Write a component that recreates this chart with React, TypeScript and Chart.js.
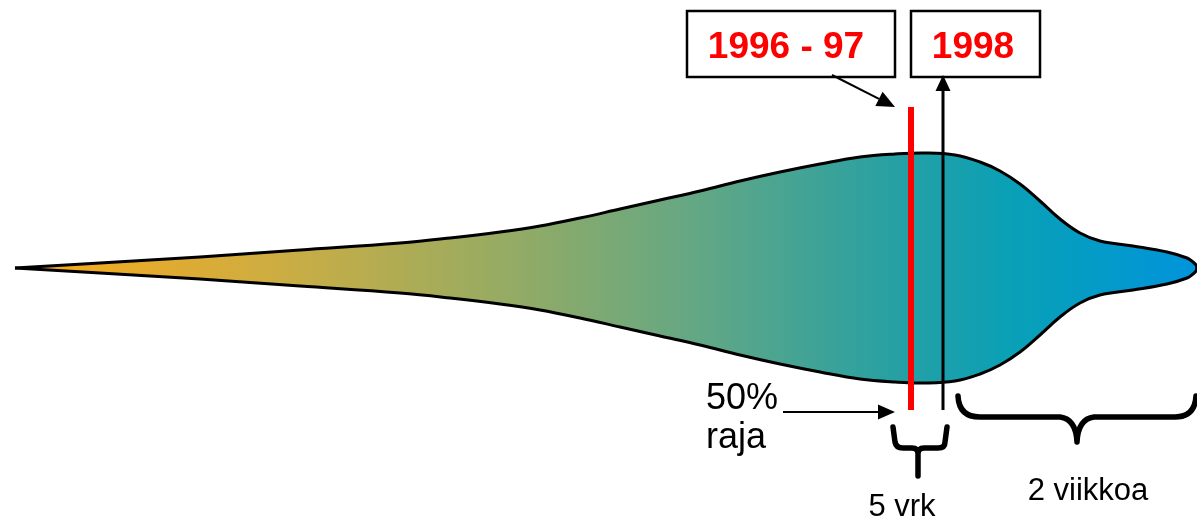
import React, { useEffect, useRef } from "react";
import { Chart, registerables } from "chart.js";

Chart.register(...registerables);

// Profile of the distribution (x position along time axis, half width of the shape)
const profileX = [15, 100, 200, 300, 400, 450, 500, 540, 580, 620, 660, 700, 740, 780, 820, 860, 895, 925, 955, 980, 1000, 1020, 1040, 1060, 1080, 1100, 1133, 1167, 1187, 1193, 1196, 1197];
const halfWidth = [0, 5, 11, 18, 25, 30, 36, 42, 50, 59, 68, 77, 87, 96, 104, 111, 114, 115, 113, 106, 97, 84, 67, 49, 35, 27, 22, 16, 10, 6, 3, 0];

// Markers
const yearLabels = ["1996 - 97", "1998"];
const markerX = [911, 943];
const limitLabel = ["50%", "raja"];
const spanLabels = ["5 vrk", "2 viikkoa"];

const FONT = "'Liberation Sans', Arial, sans-serif";

const annotations = {
  id: "annotations",
  afterDatasetsDraw(chart: any) {
    const c: CanvasRenderingContext2D = chart.ctx;
    const xs = chart.scales.x;
    const ys = chart.scales.y;
    const X = (v: number) => xs.getPixelForValue(v);
    const Y = (v: number) => ys.getPixelForValue(v);

    c.save();

    // Boxes
    c.strokeStyle = "#000";
    c.lineWidth = 2.5;
    c.strokeRect(X(687), Y(257), X(895) - X(687), Y(191) - Y(257));
    c.strokeRect(X(911), Y(257), X(1040) - X(911), Y(191) - Y(257));

    c.fillStyle = "#ff0000";
    c.font = `bold 37px ${FONT}`;
    c.textAlign = "center";
    c.textBaseline = "alphabetic";
    c.fillText(yearLabels[0], X(786), Y(210));
    c.fillText(yearLabels[1], X(973), Y(210));

    // Red 50% line
    c.strokeStyle = "#ff0000";
    c.lineWidth = 6;
    c.beginPath();
    c.moveTo(X(markerX[0]), Y(161));
    c.lineTo(X(markerX[0]), Y(-142));
    c.stroke();

    // Black 1998 line with arrow head
    c.strokeStyle = "#000";
    c.fillStyle = "#000";
    c.lineWidth = 3;
    c.beginPath();
    c.moveTo(X(markerX[1]), Y(178));
    c.lineTo(X(markerX[1]), Y(-142));
    c.stroke();
    c.beginPath();
    c.moveTo(X(markerX[1]), Y(193));
    c.lineTo(X(markerX[1] - 7.5), Y(177));
    c.lineTo(X(markerX[1] + 7.5), Y(177));
    c.closePath();
    c.fill();

    // Diagonal arrow from 1996-97 box to red line
    const x0 = X(832), y0 = Y(193), x1 = X(895), y1 = Y(161);
    const ang = Math.atan2(y1 - y0, x1 - x0);
    const hl = 18, hw = 8;
    const bx = x1 - hl * Math.cos(ang), by = y1 - hl * Math.sin(ang);
    c.lineWidth = 2;
    c.beginPath();
    c.moveTo(x0, y0);
    c.lineTo(bx, by);
    c.stroke();
    c.beginPath();
    c.moveTo(x1, y1);
    c.lineTo(bx + hw * Math.sin(ang), by - hw * Math.cos(ang));
    c.lineTo(bx - hw * Math.sin(ang), by + hw * Math.cos(ang));
    c.closePath();
    c.fill();

    // 50% raja label + arrow
    c.font = `36px ${FONT}`;
    c.textAlign = "left";
    c.fillText(limitLabel[0], X(706), Y(-141));
    c.fillText(limitLabel[1], X(706), Y(-180));
    c.lineWidth = 2;
    c.beginPath();
    c.moveTo(X(783), Y(-144));
    c.lineTo(X(880), Y(-144));
    c.stroke();
    c.beginPath();
    c.moveTo(X(895), Y(-144));
    c.lineTo(X(878), Y(-136.5));
    c.lineTo(X(878), Y(-151.5));
    c.closePath();
    c.fill();

    // Small brace (5 vrk)
    c.lineWidth = 5.5;
    c.lineCap = "round";
    c.lineJoin = "round";
    c.beginPath();
    c.moveTo(X(893), Y(-159));
    c.lineTo(X(895), Y(-174));
    c.quadraticCurveTo(X(896), Y(-180), X(903), Y(-180));
    c.lineTo(X(912), Y(-180));
    c.quadraticCurveTo(X(918), Y(-180), X(918), Y(-186));
    c.lineTo(X(918), Y(-208));
    c.moveTo(X(918), Y(-186));
    c.quadraticCurveTo(X(918), Y(-180), X(924), Y(-180));
    c.lineTo(X(938), Y(-180));
    c.quadraticCurveTo(X(945), Y(-180), X(945), Y(-174));
    c.lineTo(X(947), Y(-159));
    c.stroke();

    // Big brace (2 viikkoa)
    c.beginPath();
    c.moveTo(X(958), Y(-128));
    c.quadraticCurveTo(X(959), Y(-149), X(980), Y(-149));
    c.lineTo(X(1060), Y(-149));
    c.quadraticCurveTo(X(1076), Y(-151), X(1077), Y(-174));
    c.moveTo(X(1077), Y(-174));
    c.quadraticCurveTo(X(1078), Y(-151), X(1094), Y(-149));
    c.lineTo(X(1175), Y(-149));
    c.quadraticCurveTo(X(1195), Y(-149), X(1196), Y(-128));
    c.stroke();

    c.font = `31px ${FONT}`;
    c.textAlign = "center";
    c.fillText(spanLabels[0], X(902), Y(-248));
    c.fillText(spanLabels[1], X(1088), Y(-232));

    c.restore();
  },
};

export default function App() {
  const ref = useRef<HTMLCanvasElement>(null);

  useEffect(() => {
    if (!ref.current) return;
    const upper = profileX.map((x, i) => ({ x, y: halfWidth[i] }));
    const lower = profileX.map((x, i) => ({ x, y: -halfWidth[i] }));

    const gradient = (ctx: any) => {
      const chart = ctx.chart;
      const { chartArea } = chart;
      if (!chartArea) return "#2aa0a8";
      const xs = chart.scales.x;
      const g = chart.ctx.createLinearGradient(xs.getPixelForValue(profileX[0]), 0, xs.getPixelForValue(profileX[profileX.length - 1]), 0);
      g.addColorStop(0, "#fba818");
      g.addColorStop(0.22, "#cdad42");
      g.addColorStop(0.42, "#94ab64");
      g.addColorStop(0.58, "#62a785");
      g.addColorStop(0.75, "#25a0a4");
      g.addColorStop(0.85, "#08a0b8");
      g.addColorStop(1, "#0094dc");
      return g;
    };

    const common = {
      borderColor: "#000",
      borderWidth: 3,
      pointRadius: 0,
      tension: 0.4,
      clip: false as any,
    };

    const chart = new Chart(ref.current, {
      type: "line",
      data: {
        datasets: [
          { ...common, data: upper, fill: false },
          { ...common, data: lower, fill: "-1", backgroundColor: gradient },
        ],
      },
      options: {
        animation: false,
        responsive: false,
        maintainAspectRatio: false,
        layout: { padding: 0 },
        plugins: { legend: { display: false }, tooltip: { enabled: false } },
        events: [],
        scales: {
          x: { type: "linear", min: 0, max: 1197, display: false },
          y: { type: "linear", min: -251, max: 268, display: false },
        },
      },
      plugins: [annotations],
    });
    return () => chart.destroy();
  }, []);

  return (
    <div style={{ position: "fixed", left: 0, top: 0, width: 1197, height: 519, background: "#fff" }}>
      <canvas ref={ref} width={1197} height={519} style={{ display: "block" }} />
    </div>
  );
}
